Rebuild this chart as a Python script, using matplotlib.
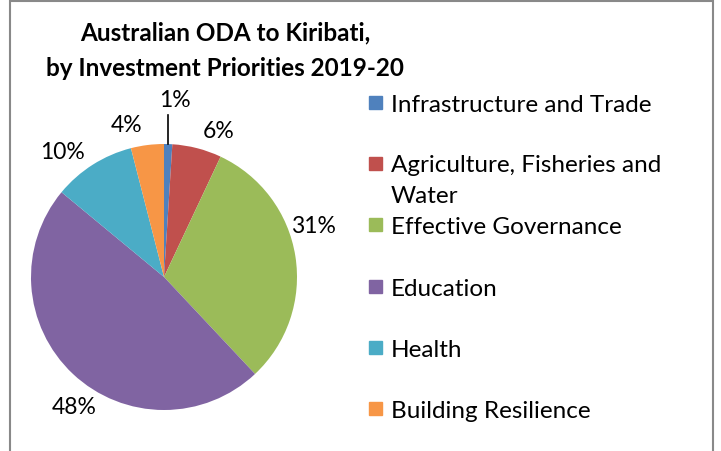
import matplotlib.pyplot as plt
from matplotlib.patches import Rectangle
import numpy as np

# data
categories = ['Infrastructure and Trade', 'Agriculture, Fisheries and\nWater',
              'Effective Governance', 'Education', 'Health', 'Building Resilience']
shares = [1, 6, 31, 48, 10, 4]
colors = ['#4F81BD', '#C0504D', '#9BBB59', '#8064A2', '#4BACC6', '#F79646']

# label spots (pie radius = 1)
label_xy = [(0.083, 1.338), (0.41, 1.105), (1.12, 0.39), (-0.677, -0.977),
            (-0.76, 0.947), (-0.278, 1.15)]

W, H = 721, 452
plt.rcParams['font.family'] = ['Lato', 'DejaVu Sans']
fig = plt.figure(figsize=(W / 100, H / 100), dpi=100)

# pie centre at (164, 278) px, radius 133 px
cx, cy, r = 164, 278, 133
x0, x1, y0, y1 = -1.2, 1.2, -1.3, 1.4
ax = fig.add_axes([(cx + x0 * r) / W, (H - cy + y0 * r) / H,
                   (x1 - x0) * r / W, (y1 - y0) * r / H])
wedges, _ = ax.pie(shares, colors=colors, startangle=90, counterclock=False,
                   radius=1, wedgeprops=dict(linewidth=0))
ax.set_xlim(x0, x1)
ax.set_ylim(y0, y1)
ax.set_aspect('equal')
ax.axis('off')

for val, (lx, ly) in zip(shares, label_xy):
    ax.text(lx, ly, f'{val}%', ha='center', va='center', fontsize=16.5, color='#000000')

# leader line for the small slice
th = np.deg2rad(90 - shares[0] * 3.6 / 2)
ax.plot([np.cos(th), np.cos(th)], [np.sin(th), 1.22], color='black', lw=1.2)

# title (baseline of the last line)
fig.text(225 / W, 1 - 76 / H, 'Australian ODA to Kiribati,\nby Investment Priorities 2019-20',
         ha='center', va='baseline', fontsize=17.5, fontweight='bold', linespacing=1.65)

# legend drawn on a fixed grid like Excel does
line_pitch = 30
for i, (name, c) in enumerate(zip(categories, colors)):
    py = 103.5 + i * 61.2
    fig.patches.append(Rectangle((369 / W, 1 - (py + 6.5) / H), 13 / W, 13 / H,
                                 transform=fig.transFigure, color=c))
    extra = name.count('\n') * line_pitch
    fig.text(391 / W, 1 - (py + 8.5 + extra) / H, name, ha='left', va='baseline',
             fontsize=17.5, linespacing=1.62)

# chart border
fig.patches.append(Rectangle((10 / W, -0.05), 703 / W, 1.05 - 2 / H, transform=fig.transFigure,
                             fill=False, edgecolor='#898989', lw=1.5))

fig.savefig('out.png', dpi=100)
